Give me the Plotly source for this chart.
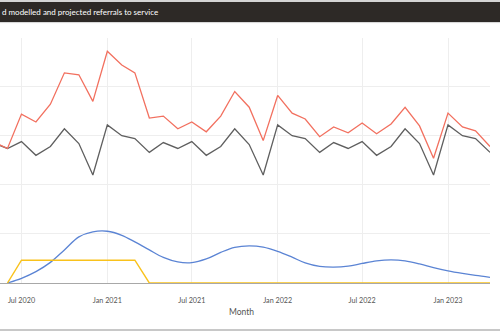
import plotly.graph_objects as go

months = ["2020-05-01","2020-06-01","2020-07-01","2020-08-01","2020-09-01","2020-10-01","2020-11-01","2020-12-01",
          "2021-01-01","2021-02-01","2021-03-01","2021-04-01","2021-05-01","2021-06-01","2021-07-01","2021-08-01",
          "2021-09-01","2021-10-01","2021-11-01","2021-12-01","2022-01-01","2022-02-01","2022-03-01","2022-04-01",
          "2022-05-01","2022-06-01","2022-07-01","2022-08-01","2022-09-01","2022-10-01","2022-11-01","2022-12-01",
          "2023-01-01","2023-02-01","2023-03-01","2023-04-01"]

modelled = [143, 137, 144, 130, 139, 157, 142, 110, 161, 150, 147, 133,
            143, 137, 144, 130, 139, 157, 141, 110, 161, 150, 147, 133,
            143, 137, 144, 130, 139, 157, 142, 110, 161, 150, 147, 133]

actual = [144, 137, 172, 164, 182, 214, 212, 185, 236, 222, 214, 168,
          170, 157, 164, 154, 170, 195, 179, 145, 191, 173, 167, 149,
          159, 153, 163, 152, 162, 179, 160, 127, 173, 159, 155, 139]

blue_months = months[1:]
blue_vals = [0, 4.8, 11.6, 21, 33.7, 47, 52.1, 52.7, 48.6, 41.9, 33.7, 26.1,
             21.5, 20.8, 24.5, 31.2, 36.3, 37.8, 36.5, 32.2, 26.3, 20.5, 16.9, 16.1,
             17.1, 19.9, 22.5, 23.5, 22.5, 19.4, 15.6, 12.3, 9.7, 7.7, 5.8]

yellow_months = months[1:]
yellow_vals = [0, 23.2, 23.2, 23.2, 23.2, 23.2, 23.2, 23.2, 23.2, 23.2, 0, 0,
               0, 0, 0, 0, 0, 0, 0, 0, 0, 0, 0, 0,
               0, 0, 0, 0, 0, 0, 0, 0, 0, 0, 0]

title_text = "d modelled and projected referrals to service"
x_title = "Month"

fig = go.Figure()
fig.add_trace(go.Scatter(x=months, y=modelled, mode="lines", line=dict(color="#5f5f5f", width=1.3), showlegend=False))
fig.add_trace(go.Scatter(x=months, y=actual, mode="lines", line=dict(color="#f2705f", width=1.3), showlegend=False))
fig.add_trace(go.Scatter(x=blue_months, y=blue_vals, mode="lines", line=dict(color="#5b84d4", width=1.3, shape="spline"), showlegend=False))
fig.add_trace(go.Scatter(x=yellow_months, y=yellow_vals, mode="lines", line=dict(color="#f9c21c", width=1.4), showlegend=False))

H = 245.0  # plot height px
def py(p):
    return (283 - p) / H

shapes = [
    dict(type="rect", xref="paper", yref="paper", x0=-0.05, x1=1.05, y0=py(2), y1=py(0), fillcolor="#d4d4d4", line=dict(width=0), layer="above"),
    dict(type="rect", xref="paper", yref="paper", x0=-0.05, x1=1.05, y0=py(22), y1=py(2), fillcolor="#2d2926", line=dict(width=0), layer="above"),
    dict(type="line", xref="paper", yref="paper", x0=-0.05, x1=1.05, y0=py(22.6), y1=py(22.6), line=dict(color="#d4d4d4", width=1)),
    dict(type="line", xref="paper", yref="paper", x0=-0.05, x1=1.05, y0=py(330), y1=py(330), line=dict(color="#c8c8c8", width=2)),
]

annotations = [
    dict(text=title_text, xref="paper", yref="paper", x=0, y=py(12.4), xanchor="left", yanchor="middle",
         showarrow=False, font=dict(family="Lato", size=8.0, color="#ffffff")),
    dict(text=x_title, xref="paper", yref="paper", x=241/490, y=py(311.5), xanchor="center", yanchor="middle",
         showarrow=False, font=dict(family="Lato", size=8.5, color="#555555")),
]

fig.update_layout(
    width=500, height=333,
    margin=dict(l=0, r=10, t=38, b=50, autoexpand=False),
    paper_bgcolor="white", plot_bgcolor="white",
    shapes=shapes, annotations=annotations,
    font=dict(family="Lato", size=7, color="#555555"),
    xaxis=dict(type="date", range=["2020-05-16", "2023-04-01"], tick0="2020-01-01", dtick="M6",
               tickformat="%b %Y", showgrid=True, gridcolor="#eeeeee", gridwidth=1,
               showline=True, linecolor="#a8a8a8", linewidth=1.2, layer="below traces",
               ticks="", tickfont=dict(family="Lato", size=7.2, color="#555555"), ticklabelstandoff=10, zeroline=False),
    yaxis=dict(range=[0, 249.5], dtick=50, showgrid=True, gridcolor="#eeeeee", gridwidth=1,
               showticklabels=False, zeroline=False, showline=False),
)

fig.write_html("out.html")
